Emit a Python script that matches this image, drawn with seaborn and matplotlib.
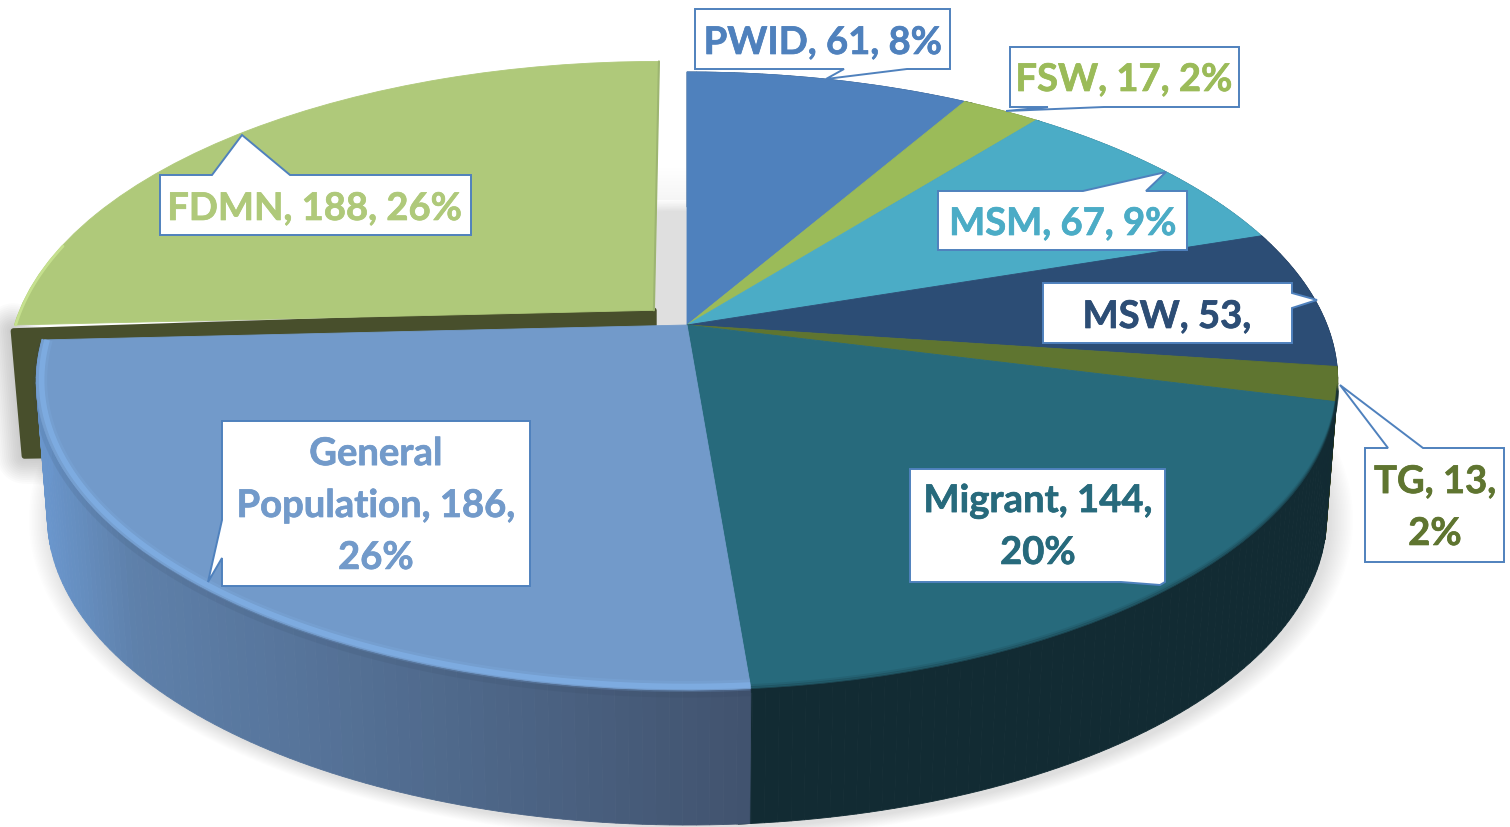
import numpy as np
import matplotlib
matplotlib.use('Agg')
import matplotlib.pyplot as plt
import matplotlib.patheffects as pe
import matplotlib.transforms as mtransforms
from matplotlib.colors import to_rgb
import seaborn as sns

groups = ['PWID', 'FSW', 'MSM', 'MSW', 'TG', 'Migrant', 'General Population', 'FDMN']
counts = [61, 17, 67, 53, 13, 144, 186, 188]
slice_colors = ['#4F81BD', '#9BBB59', '#4BACC6', '#2C4D75', '#5F7530', '#276A7C', '#729ACA', '#AFC97A']
wall_colors = ['#2C4D75', '#5F7530', '#2A6070', '#18293F', '#2F3A18', '#122B33', '#41536E', '#484F2C']
label_text = ['PWID, 61, 8%', 'FSW, 17, 2%', 'MSM, 67, 9%', 'MSW, 53,', 'TG, 13,\n2%',
              'Migrant, 144,\n20%', 'General\nPopulation, 186,\n26%', 'FDMN, 188, 26%']

# label placement, pixels of the picture
label_xy = [(823, 43), (1124, 80), (1063, 224), (1167, 317), (1435, 508),
            (1038, 527), (376, 506), (315, 209)]
callouts = [
    [(695, 9), (950, 9), (950, 69), (907, 69), (826, 79), (844, 69), (695, 69)],
    [(1010, 47), (1239, 47), (1239, 107), (1104, 107), (1006, 111), (1048, 107), (1010, 107)],
    [(938, 191), (1083, 191), (1166, 172), (1146, 191), (1187, 191), (1187, 250), (938, 250)],
    [(1043, 283), (1292, 283), (1292, 293), (1317, 300), (1292, 308), (1292, 343), (1043, 343)],
    [(1365, 448), (1388, 448), (1340, 385), (1423, 448), (1504, 448), (1504, 562), (1365, 562)],
    [(910, 469), (1165, 469), (1165, 582), (1160, 585), (1121, 582), (910, 582)],
    [(222, 421), (530, 421), (530, 586), (222, 586), (222, 558), (208, 582), (222, 520)],
    [(160, 175), (212, 175), (242, 135), (290, 175), (471, 175), (471, 235), (160, 235)],
]

sns.set_theme(style='white')
plt.rcParams['font.family'] = ['Lato', 'DejaVu Sans']
palette = sns.color_palette(slice_colors)


class PieTilt(mtransforms.Transform):
    """perspective from the unit pie to picture pixels"""
    input_dims = 2
    output_dims = 2

    def transform_non_affine(self, values):
        u, v = np.asarray(values).T
        w = 1 + 0.1812 * v
        return np.column_stack([687 + 640 * u / w, (325 - 240 * v) / w])


tilt = PieTilt()
DEPTH = 135
SHRINK = 0.983
EXPLODE = 0.072


def rim(deg, r=1.0, shift=(0, 0)):
    # deg is the normal pie angle, counter clockwise from the right
    a = np.radians(deg)
    return tilt.transform_non_affine(np.column_stack([r * np.cos(a) + shift[0], r * np.sin(a) + shift[1]]))


def lower(pts):
    return np.column_stack([687 + (pts[:, 0] - 687) * SHRINK, pts[:, 1] + DEPTH])


fig = plt.figure(figsize=(15.1, 8.27), dpi=100)
ax = fig.add_axes([0, 0, 1, 1])

explode = [0] * (len(counts) - 1) + [EXPLODE]
wedges, _ = ax.pie(counts, colors=palette, startangle=90, counterclock=False, explode=explode)
ax.set_aspect('auto')
ax.set_xlim(0, 1510)
ax.set_ylim(827, 0)
ax.axis('off')

for i, w in enumerate(wedges):
    w.set_transform(tilt + ax.transData)
    w.set_edgecolor(palette[i])
    w.set_linewidth(0.6)
    w.set_zorder(2 if i == len(wedges) - 1 else 4)

edges = 90 - np.cumsum([0] + counts) / sum(counts) * 360

# soft shadow under the pie
ring = rim(np.linspace(0, 360, 361))
low = lower(ring)
mid = np.array([687, 381 + DEPTH])
for s in np.linspace(1.0, 1.035, 16):
    ax.fill((low[:, 0] - mid[0]) * s + mid[0] + 4, (low[:, 1] - mid[1]) * s + mid[1] + 4,
            color='k', alpha=0.0075, lw=0, zorder=0)
# the same shadow fading out upwards in the gap beside the exploded slice
for y0 in np.linspace(168, 205, 12):
    ax.fill([640, 690, 690, 640], [y0, y0, 200, 200], color='k', alpha=0.005, lw=0, zorder=0.5)

# exploded slice: cut face, with a soft shadow at its left and lower side
a_mid = np.radians((edges[-2] + edges[-1]) / 2)
off = (EXPLODE * np.cos(a_mid), EXPLODE * np.sin(a_mid))
apex = tilt.transform_non_affine(np.array([off]))
tip = rim(np.array([edges[-2]]), shift=off)
face_x = [apex[0, 0], tip[0, 0] - 1, tip[0, 0] + 10, apex[0, 0]]
face_y = [apex[0, 1], tip[0, 1] + 6, tip[0, 1] + DEPTH - 4, apex[0, 1] + DEPTH]
for lw in np.linspace(4, 40, 14):
    ax.plot(face_x[1:3] + [120], face_y[1:3] + [face_y[2] + 4], color='k', lw=lw, alpha=0.014,
            solid_capstyle='round', solid_joinstyle='round', zorder=0.6)
ax.fill(face_x, face_y, facecolor=wall_colors[-1], edgecolor=wall_colors[-1], lw=4,
        joinstyle='round', zorder=1.5)

# thin darker edge of the exploded slice, light edge at its tip
top_edge = rim(np.array([90.0]), shift=off)
ax.plot([apex[0, 0], top_edge[0, 0]], [apex[0, 1], top_edge[0, 1]], color='#9DB571', lw=1.5, zorder=3)
p = rim(np.linspace(edges[-2], edges[-2] - 16, 30), r=0.998, shift=off)
ax.plot(p[:, 0], p[:, 1], color='#C5E08E', lw=2, zorder=3)

# walls of the body, one thin strip per degree
gp_x = [40, 130, 750]
gp_rgb = np.array([to_rgb('#6A96CC'), to_rgb('#5E80AA'), to_rgb(wall_colors[6])])
for i in range(len(counts) - 1):
    angles = np.arange(edges[i], edges[i + 1] - 1, -1.0)
    angles = np.r_[angles, edges[i + 1]]
    for a0, a1 in zip(angles[:-1], angles[1:]):
        top = rim(np.array([a0, a1]))
        bot = lower(top)
        col = to_rgb(wall_colors[i])
        if i == 6:
            col = [np.interp(top[:, 0].mean(), gp_x, gp_rgb[:, c]) for c in range(3)]
        ax.fill(np.r_[top[:, 0], bot[::-1, 0]], np.r_[top[:, 1], bot[::-1, 1]],
                color=col, lw=0.6, zorder=3)

# bevel along the front rim
gp_arc = np.linspace(edges[6], edges[7], 80)
for r, lw, al in [(0.992, 8, 0.2), (0.992, 4, 0.6)]:
    p = rim(gp_arc, r=r)
    ax.plot(p[:, 0], p[:, 1], color='#84B4EC', lw=lw, alpha=al, solid_capstyle='butt', zorder=5)
p = rim(gp_arc)
ax.plot(p[:, 0], p[:, 1] + 4, color='#2C3E55', lw=5, alpha=0.1, solid_capstyle='butt', zorder=3.5)
dark_arc = np.linspace(edges[3] - 30, edges[6], 120)
for off_px, al in [(-3, 0.12), (-1, 0.25), (1, 0.45), (3, 0.65)]:
    p = rim(dark_arc)
    ax.plot(p[:, 0], p[:, 1] + off_px, color=wall_colors[5], lw=2, alpha=al, solid_capstyle='butt', zorder=5)

# callouts and labels
for i in range(len(groups)):
    xs, ys = zip(*callouts[i])
    ax.fill(xs, ys, facecolor='white', edgecolor='#4F81BD', lw=1.4, joinstyle='miter', zorder=6)
    t = ax.text(label_xy[i][0], label_xy[i][1], label_text[i], color=palette[i], fontsize=27.5, fontweight='bold',
                ha='center', va='center', linespacing=1.64, zorder=7)
    t.set_path_effects([pe.withStroke(linewidth=0.5, foreground=palette[i])])

fig.savefig('out.png', dpi=100)
